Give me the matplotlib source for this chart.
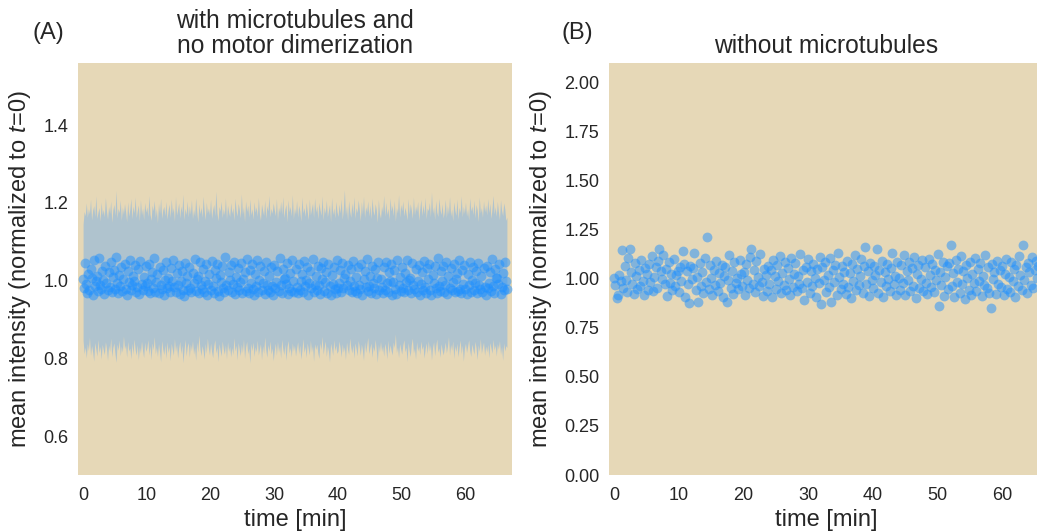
import numpy as np
import matplotlib
matplotlib.use("Agg")
import matplotlib.pyplot as plt
from matplotlib.ticker import FormatStrFormatter

plt.rcParams["font.family"] = ["Liberation Sans", "DejaVu Sans"]
plt.rcParams["mathtext.fontset"] = "custom"
plt.rcParams["mathtext.rm"] = "Liberation Sans"
plt.rcParams["mathtext.it"] = "Liberation Sans:italic"

# ---------------------------------------------------------------- data
# (A) with microtubules, no motor dimerization: frame every 10 s
A_FRAME_MIN = 1.0 / 6.0
A_MEAN = [
    1.004, 0.981, 1.046, 0.992, 0.969, 1.018, 0.976, 1.031, 1.007, 0.963, 1.052, 0.985, 0.998, 1.012, 0.973, 1.058, 0.990, 0.979, 1.026, 1.001,
    0.966, 1.039, 0.995, 0.975, 1.021, 0.984, 1.049, 0.971, 1.009, 1.027, 0.978, 1.060, 0.993, 0.968, 1.015, 0.987, 1.034, 0.974, 1.003, 1.044,
    0.979, 0.962, 1.024, 0.996, 1.054, 0.977, 0.988, 1.013, 1.000, 1.040, 0.972, 0.983, 1.029, 0.965, 1.050, 0.991, 0.976, 1.010, 0.986, 1.037,
    0.994, 0.973, 1.043, 0.967, 1.005, 1.022, 0.980, 1.059, 0.971, 0.997, 1.016, 0.969, 1.035, 0.989, 0.978, 1.028, 0.964, 1.002, 1.047, 0.982,
    1.008, 0.986, 0.970, 1.033, 0.999, 1.053, 0.984, 0.972, 1.019, 0.990, 1.041, 0.966, 1.000, 1.025, 0.977, 0.961, 1.045, 0.993, 1.011, 0.975,
    1.036, 0.980, 0.970, 1.020, 0.995, 1.056, 0.974, 1.003, 1.012, 0.967, 1.048, 0.988, 0.979, 1.030, 0.971, 0.998, 1.042, 0.963, 0.992, 1.017,
    0.977, 1.051, 0.985, 0.968, 1.028, 1.006, 1.044, 0.973, 0.960, 1.014, 0.996, 1.038, 0.982, 0.970, 1.062, 0.989, 0.975, 1.023, 1.001, 1.040,
    0.972, 0.991, 1.049, 0.965, 1.010, 0.983, 1.032, 0.976, 0.997, 1.046, 0.969, 1.004, 1.021, 0.974, 1.055, 0.980, 0.967, 1.027, 0.994, 1.043,
    0.978, 0.964, 1.016, 0.987, 1.052, 0.971, 1.001, 1.037, 0.975, 0.993, 1.026, 0.966, 1.048, 0.990, 0.977, 1.013, 0.970, 1.034, 0.985, 0.962,
    1.041, 0.980, 0.996, 1.024, 0.973, 1.058, 0.988, 0.968, 1.031, 1.005, 1.008, 0.991, 1.045, 0.965, 0.982, 1.019, 0.974, 1.053, 0.999, 0.970,
    1.030, 0.984, 0.967, 1.043, 0.976, 0.998, 1.017, 0.971, 1.050, 0.987, 1.002, 1.036, 0.963, 0.994, 1.025, 0.981, 1.055, 0.972, 0.990, 1.011,
    0.975, 1.039, 0.988, 0.966, 1.033, 1.004, 1.047, 0.973, 0.996, 1.022, 0.969, 1.044, 0.985, 0.962, 1.014, 0.992, 1.036, 0.978, 0.968, 1.053,
    0.982, 0.995, 1.028, 0.971, 1.046, 0.980, 1.007, 1.018, 0.988, 1.040, 0.976, 0.999, 1.031, 0.970, 1.051, 0.986, 0.974, 1.009, 0.967, 1.035,
    0.990, 0.978, 1.042, 0.964, 1.003, 1.026, 0.983, 1.057, 0.973, 0.987, 1.012, 0.969, 1.038, 0.995, 0.980, 1.029, 0.966, 1.006, 1.049, 0.975,
    1.005, 0.984, 0.968, 1.036, 0.977, 1.048, 0.993, 0.972, 1.022, 1.000, 1.043, 0.963, 0.997, 1.027, 0.979, 0.965, 1.052, 0.990, 1.010, 0.974,
    1.034, 0.982, 0.970, 1.019, 0.996, 1.054, 0.976, 1.002, 1.007, 0.967, 1.045, 0.988, 0.979, 1.030, 0.972, 1.000, 1.041, 0.964, 0.991, 1.023,
    0.976, 1.050, 0.983, 0.969, 1.032, 1.004, 1.042, 0.975, 0.962, 1.015, 0.993, 1.039, 0.980, 0.967, 1.059, 0.987, 0.973, 1.025, 0.998, 1.037,
    0.971, 0.989, 1.047, 0.966, 1.011, 0.982, 1.033, 0.977, 0.996, 1.044, 0.970, 1.003, 1.019, 0.974, 1.053, 0.979, 0.968, 1.028, 0.992, 1.040,
    0.979, 0.965, 1.017, 0.988, 1.049, 0.972, 1.001, 1.036, 0.976, 0.994, 1.024, 0.967, 1.045, 0.990, 0.978, 1.013, 0.971, 1.033, 0.984, 0.963,
    1.039, 0.981, 0.995, 1.022, 0.974, 1.056, 0.987, 0.969, 1.030, 1.006, 1.008, 0.992, 1.043, 0.966, 0.983, 1.020, 0.975, 1.048, 0.998, 0.978,
]
A_UPPER = [
    1.146, 1.178, 1.167, 1.200, 1.163, 1.185, 1.172, 1.209, 1.156, 1.181, 1.193, 1.165, 1.218, 1.160, 1.176, 1.188, 1.153, 1.202, 1.170, 1.183,
    1.164, 1.214, 1.179, 1.158, 1.191, 1.173, 1.205, 1.150, 1.182, 1.196, 1.168, 1.232, 1.161, 1.186, 1.175, 1.207, 1.155, 1.189, 1.171, 1.198,
    1.177, 1.152, 1.203, 1.166, 1.184, 1.211, 1.159, 1.192, 1.174, 1.215, 1.162, 1.180, 1.195, 1.154, 1.208, 1.169, 1.187, 1.157, 1.201, 1.176,
    1.190, 1.165, 1.219, 1.171, 1.155, 1.194, 1.180, 1.206, 1.163, 1.185, 1.149, 1.199, 1.173, 1.212, 1.160, 1.182, 1.191, 1.167, 1.204, 1.158,
    1.181, 1.197, 1.162, 1.210, 1.174, 1.188, 1.153, 1.216, 1.169, 1.183, 1.200, 1.161, 1.192, 1.175, 1.222, 1.156, 1.186, 1.170, 1.205, 1.164,
    1.193, 1.171, 1.208, 1.159, 1.184, 1.166, 1.213, 1.178, 1.151, 1.198, 1.172, 1.189, 1.163, 1.217, 1.180, 1.157, 1.202, 1.174, 1.187, 1.169,
    1.209, 1.160, 1.182, 1.196, 1.167, 1.230, 1.175, 1.154, 1.191, 1.179, 1.204, 1.162, 1.185, 1.170, 1.213, 1.158, 1.194, 1.177, 1.165, 1.201,
    1.173, 1.188, 1.155, 1.212, 1.181, 1.166, 1.199, 1.184, 1.161, 1.223, 1.171, 1.190, 1.152, 1.205, 1.178, 1.194, 1.163, 1.210, 1.169, 1.185,
    1.158, 1.203, 1.176, 1.190, 1.165, 1.214, 1.172, 1.155, 1.197, 1.181, 1.168, 1.207, 1.160, 1.193, 1.179, 1.219, 1.164, 1.186, 1.173, 1.200,
    1.182, 1.167, 1.211, 1.156, 1.189, 1.175, 1.204, 1.170, 1.216, 1.162, 1.184, 1.196, 1.151, 1.208, 1.177, 1.191, 1.166, 1.221, 1.159, 1.187,
    1.171, 1.206, 1.163, 1.194, 1.180, 1.153, 1.215, 1.174, 1.188, 1.165, 1.202, 1.178, 1.157, 1.210, 1.169, 1.185, 1.199, 1.162, 1.213, 1.176,
    1.192, 1.159, 1.201, 1.183, 1.168, 1.218, 1.156, 1.189, 1.173, 1.207, 1.164, 1.181, 1.196, 1.152, 1.214, 1.170, 1.187, 1.161, 1.204, 1.178,
    1.165, 1.197, 1.174, 1.210, 1.158, 1.185, 1.234, 1.169, 1.193, 1.155, 1.206, 1.179, 1.163, 1.200, 1.172, 1.216, 1.160, 1.188, 1.175, 1.208,
    1.184, 1.154, 1.203, 1.171, 1.217, 1.162, 1.190, 1.177, 1.205, 1.166, 1.195, 1.159, 1.212, 1.180, 1.168, 1.198, 1.183, 1.150, 1.209, 1.173,
    1.161, 1.191, 1.176, 1.219, 1.165, 1.202, 1.170, 1.186, 1.157, 1.213, 1.179, 1.194, 1.167, 1.207, 1.153, 1.188, 1.174, 1.221, 1.163, 1.196,
    1.180, 1.205, 1.166, 1.189, 1.175, 1.156, 1.211, 1.171, 1.198, 1.182, 1.160, 1.215, 1.169, 1.192, 1.178, 1.204, 1.155, 1.185, 1.209, 1.167,
    1.195, 1.172, 1.214, 1.159, 1.187, 1.180, 1.201, 1.164, 1.228, 1.173, 1.190, 1.157, 1.206, 1.176, 1.165, 1.212, 1.183, 1.170, 1.198, 1.161,
    1.177, 1.209, 1.162, 1.193, 1.171, 1.216, 1.166, 1.184, 1.154, 1.203, 1.181, 1.168, 1.210, 1.158, 1.189, 1.175, 1.218, 1.164, 1.191, 1.173,
    1.202, 1.166, 1.185, 1.156, 1.213, 1.179, 1.192, 1.170, 1.207, 1.161, 1.196, 1.182, 1.152, 1.215, 1.174, 1.188, 1.163, 1.205, 1.177, 1.194,
    1.169, 1.211, 1.175, 1.199, 1.160, 1.186, 1.219, 1.172, 1.190, 1.165, 1.204, 1.178, 1.157, 1.208, 1.181, 1.167, 1.200, 1.185, 1.155, 1.163,
]
A_LOWER = [
    0.846, 0.812, 0.829, 0.801, 0.838, 0.820, 0.855, 0.808, 0.833, 0.817, 0.793, 0.841, 0.824, 0.806, 0.849, 0.815, 0.831, 0.798, 0.836, 0.822,
    0.810, 0.843, 0.826, 0.795, 0.834, 0.818, 0.852, 0.804, 0.828, 0.840, 0.813, 0.790, 0.837, 0.821, 0.847, 0.807, 0.832, 0.816, 0.858, 0.825,
    0.835, 0.803, 0.844, 0.819, 0.827, 0.799, 0.839, 0.811, 0.850, 0.823, 0.808, 0.836, 0.796, 0.830, 0.814, 0.845, 0.820, 0.802, 0.842, 0.818,
    0.827, 0.848, 0.809, 0.833, 0.797, 0.840, 0.822, 0.856, 0.812, 0.829, 0.805, 0.838, 0.817, 0.791, 0.846, 0.824, 0.810, 0.835, 0.800, 0.843,
    0.815, 0.831, 0.794, 0.839, 0.823, 0.808, 0.851, 0.818, 0.836, 0.801, 0.827, 0.844, 0.812, 0.834, 0.789, 0.821, 0.849, 0.806, 0.830, 0.841,
    0.803, 0.837, 0.820, 0.846, 0.811, 0.828, 0.795, 0.842, 0.816, 0.860, 0.825, 0.807, 0.833, 0.819, 0.798, 0.839, 0.813, 0.852, 0.826, 0.809,
    0.840, 0.817, 0.802, 0.832, 0.848, 0.814, 0.829, 0.792, 0.838, 0.821, 0.806, 0.845, 0.824, 0.811, 0.835, 0.799, 0.843, 0.818, 0.831, 0.804,
    0.828, 0.810, 0.853, 0.819, 0.834, 0.796, 0.841, 0.823, 0.807, 0.837, 0.815, 0.850, 0.800, 0.829, 0.844, 0.812, 0.826, 0.788, 0.839, 0.820,
    0.842, 0.805, 0.830, 0.817, 0.847, 0.809, 0.824, 0.838, 0.797, 0.833, 0.813, 0.855, 0.822, 0.803, 0.836, 0.818, 0.845, 0.811, 0.827, 0.794,
    0.821, 0.839, 0.808, 0.844, 0.816, 0.832, 0.801, 0.849, 0.825, 0.810, 0.837, 0.795, 0.830, 0.846, 0.814, 0.828, 0.804, 0.840, 0.819, 0.834,
    0.806, 0.826, 0.843, 0.812, 0.835, 0.798, 0.820, 0.851, 0.815, 0.831, 0.802, 0.840, 0.824, 0.809, 0.847, 0.817, 0.833, 0.793, 0.838, 0.823,
    0.836, 0.814, 0.800, 0.841, 0.822, 0.857, 0.811, 0.829, 0.845, 0.805, 0.832, 0.818, 0.791, 0.839, 0.826, 0.808, 0.848, 0.820, 0.834, 0.813,
    0.819, 0.845, 0.827, 0.804, 0.838, 0.816, 0.830, 0.797, 0.842, 0.823, 0.810, 0.852, 0.829, 0.814, 0.835, 0.801, 0.840, 0.825, 0.807, 0.846,
    0.830, 0.808, 0.837, 0.821, 0.795, 0.843, 0.815, 0.833, 0.854, 0.812, 0.827, 0.840, 0.803, 0.831, 0.818, 0.849, 0.822, 0.790, 0.836, 0.816,
    0.844, 0.818, 0.832, 0.806, 0.839, 0.825, 0.799, 0.847, 0.813, 0.835, 0.820, 0.809, 0.842, 0.828, 0.863, 0.815, 0.830, 0.802, 0.838, 0.824,
    0.811, 0.834, 0.848, 0.817, 0.829, 0.792, 0.841, 0.820, 0.805, 0.836, 0.852, 0.814, 0.826, 0.798, 0.843, 0.819, 0.831, 0.810, 0.845, 0.823,
    0.833, 0.801, 0.824, 0.840, 0.812, 0.846, 0.819, 0.835, 0.796, 0.828, 0.843, 0.807, 0.832, 0.850, 0.816, 0.827, 0.803, 0.838, 0.822, 0.809,
    0.825, 0.842, 0.814, 0.830, 0.856, 0.809, 0.836, 0.821, 0.845, 0.800, 0.833, 0.817, 0.839, 0.804, 0.828, 0.847, 0.812, 0.834, 0.793, 0.826,
    0.839, 0.815, 0.831, 0.848, 0.820, 0.805, 0.837, 0.823, 0.811, 0.844, 0.826, 0.797, 0.835, 0.818, 0.851, 0.813, 0.829, 0.842, 0.808, 0.832,
    0.817, 0.836, 0.802, 0.841, 0.827, 0.813, 0.849, 0.822, 0.834, 0.806, 0.838, 0.824, 0.846, 0.810, 0.831, 0.795, 0.840, 0.819, 0.833, 0.828,
]

# (B) without microtubules: frame every 12 s
B_FRAME_MIN = 0.2
B_MEAN = [
    1.002, 0.968, 0.903, 0.915, 1.021, 0.987, 1.148, 0.952, 1.063, 0.994, 0.931, 1.108, 1.151, 1.034, 0.976, 0.921, 1.082, 1.012, 0.947, 1.045,
    0.962, 1.097, 0.989, 0.918, 1.056, 1.024, 0.941, 1.073, 0.983, 1.115, 0.936, 1.009, 1.061, 0.955, 1.092, 1.150, 1.038, 0.997, 1.121, 0.971,
    1.049, 0.913, 1.087, 0.978, 1.026, 0.944, 1.102, 0.965, 1.017, 1.038, 0.934, 1.058, 0.991, 1.140, 1.075, 0.905, 1.042, 0.973, 0.879, 1.066,
    0.998, 1.053, 1.130, 0.942, 1.011, 0.880, 1.079, 0.961, 1.036, 0.927, 1.104, 0.985, 1.215, 0.950, 1.068, 1.003, 0.917, 1.047, 0.969, 1.091,
    0.938, 1.029, 0.981, 1.072, 0.909, 1.015, 1.060, 0.880, 0.992, 1.120, 0.954, 1.041, 0.925, 1.084, 0.977, 1.006, 0.946, 1.097, 1.022, 0.963,
    1.035, 0.919, 1.078, 0.995, 0.953, 1.110, 1.150, 0.972, 1.044, 0.931, 1.089, 1.008, 0.961, 1.126, 0.984, 0.912, 1.051, 1.019, 0.939, 1.067,
    0.976, 1.043, 0.905, 1.094, 1.013, 0.948, 1.070, 0.990, 1.117, 0.929, 1.031, 0.967, 1.085, 0.944, 1.054, 0.998, 0.916, 1.106, 0.958, 1.025,
    1.081, 0.937, 1.016, 0.973, 1.128, 0.951, 1.047, 0.893, 1.062, 0.986, 1.099, 0.927, 1.039, 0.964, 1.074, 1.005, 0.908, 1.052, 0.979, 1.113,
    0.870, 1.058, 0.996, 1.087, 0.933, 1.021, 0.959, 1.106, 0.880, 1.045, 0.982, 1.072, 0.917, 1.134, 1.010, 0.949, 1.066, 0.971, 1.037, 0.924,
    1.093, 0.957, 1.028, 0.901, 1.075, 0.988, 1.119, 0.942, 1.050, 0.969, 1.012, 1.101, 0.930, 1.064, 1.160, 0.976, 1.041, 0.914, 1.083, 0.995,
    0.951, 1.066, 1.019, 1.150, 0.928, 1.047, 0.983, 1.092, 0.906, 1.033, 0.964, 1.078, 0.997, 0.939, 1.057, 1.130, 0.972, 1.014, 0.920, 1.088,
    1.006, 0.945, 1.071, 0.977, 1.123, 0.918, 1.039, 0.992, 1.084, 0.936, 1.055, 0.965, 1.109, 0.903, 1.027, 1.068, 0.954, 1.000, 1.095, 0.940,
    1.059, 0.981, 0.923, 1.102, 1.018, 0.958, 1.074, 0.933, 1.045, 0.994, 1.129, 0.860, 1.036, 0.969, 1.087, 0.911, 1.011, 1.063, 0.948, 1.080,
    1.170, 0.962, 1.030, 0.907, 1.097, 0.985, 1.052, 0.926, 1.114, 0.973, 1.040, 0.895, 1.069, 1.003, 0.944, 1.088, 0.916, 1.025, 0.978, 1.107,
    0.937, 1.048, 0.990, 1.081, 0.912, 1.016, 0.966, 1.120, 0.953, 1.062, 0.929, 0.850, 1.076, 0.998, 1.033, 0.921, 1.093, 0.975, 1.044, 0.958,
    1.066, 0.918, 1.027, 1.101, 0.949, 1.009, 0.934, 1.085, 0.987, 1.050, 0.906, 1.072, 0.961, 1.118, 1.021, 0.943, 1.170, 0.996, 1.058, 0.927,
    1.079, 1.034, 0.968, 1.112, 0.952, 1.047, 1.091, 1.006, 1.064,
]

A_YTICKS = [0.6, 0.8, 1.0, 1.2, 1.4]
B_YTICKS = [0.0, 0.25, 0.5, 0.75, 1.0, 1.25, 1.5, 1.75, 2.0]
X_TICKS = [0, 10, 20, 30, 40, 50, 60]

# ---------------------------------------------------------------- style
BG = "#E6D8B7"
BAND = "#AFC3CE"
DOT = "#1E90FF"
TXT = "#262626"

W, H = 1037, 531
fig = plt.figure(figsize=(W / 100, H / 100), dpi=100)
axA = fig.add_axes([78 / W, 56 / H, 434 / W, 412 / H])
axB = fig.add_axes([609 / W, 56 / H, 434 / W, 412 / H])

tA = np.arange(len(A_MEAN)) * A_FRAME_MIN
tB = np.arange(len(B_MEAN)) * B_FRAME_MIN

axA.fill_between(tA, A_LOWER, A_UPPER, color=BAND, lw=0, zorder=1)
axA.scatter(tA, A_MEAN, s=50, color=DOT, alpha=0.5, lw=0, zorder=2)
axB.scatter(tB, B_MEAN, s=50, color=DOT, alpha=0.5, lw=0, zorder=2)

ylabel = r"mean intensity (normalized to $t\!=\!0$)"
for ax in (axA, axB):
    ax.set_facecolor(BG)
    for sp in ax.spines.values():
        sp.set_visible(False)
    ax.set_xticks(X_TICKS)
    ax.tick_params(axis="x", length=0, labelsize=13, colors=TXT, pad=9)
    ax.tick_params(axis="y", length=0, labelsize=13, colors=TXT, pad=7)
    ax.set_xlabel("time [min]", fontsize=17, color=TXT, labelpad=3)
    ax.set_ylabel(ylabel, fontsize=17, color=TXT, labelpad=7)

axA.set_xlim(-0.8, 67.3)
axA.set_ylim(0.5, 1.56)
axA.set_yticks(A_YTICKS)
axA.set_title("with microtubules and\nno motor dimerization", fontsize=17.7,
              color=TXT, pad=7, linespacing=1.05)

axB.set_xlim(-0.8, 66.3)
axB.set_ylim(0.0, 2.1)
axB.set_yticks(B_YTICKS)
axB.yaxis.set_major_formatter(FormatStrFormatter("%.2f"))
axB.set_title("without microtubules", fontsize=17.7, color=TXT, pad=7)

fig.text(48 / W, 1 - 33 / H, "(A)", fontsize=17, color=TXT, ha="center", va="center")
fig.text(577 / W, 1 - 33 / H, "(B)", fontsize=17, color=TXT, ha="center", va="center")

fig.savefig("out.png", dpi=100)
